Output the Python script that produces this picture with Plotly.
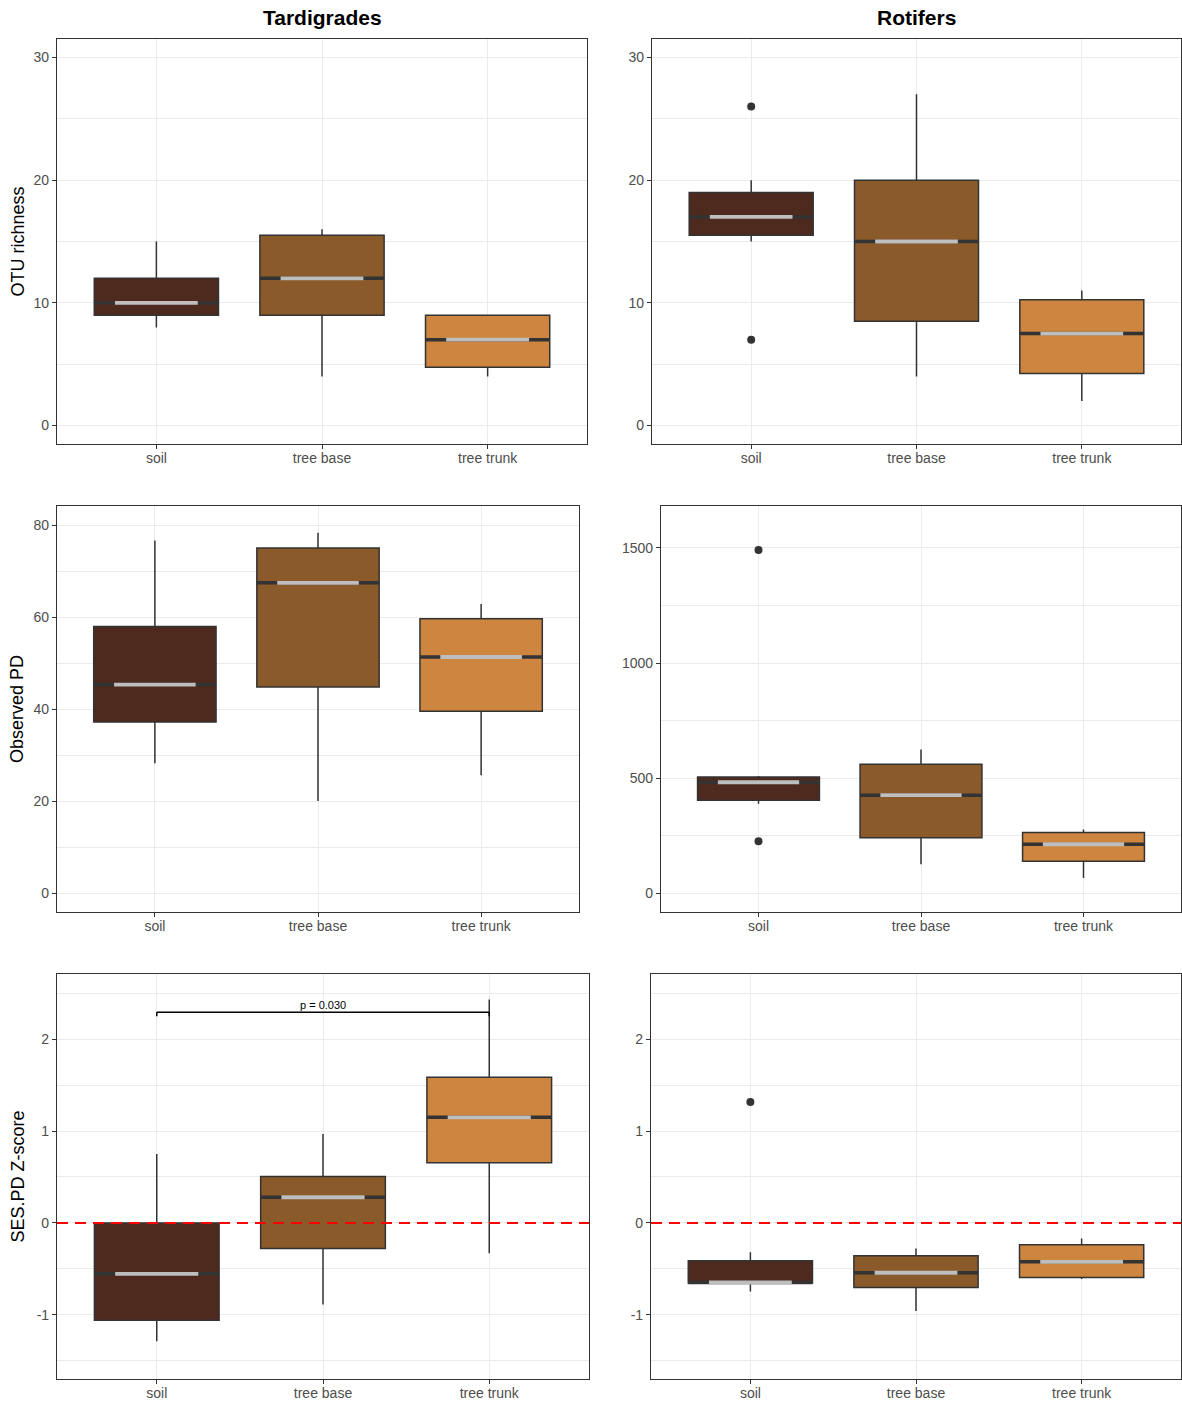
import plotly.graph_objects as go
from plotly.subplots import make_subplots

# ---------------- data ----------------
categories = ["soil", "tree base", "tree trunk"]
fill_colors = ["#4E2A1E", "#8B5A2B", "#CD853F"]

# Tardigrades - OTU richness
tard_otu_q1 = [9, 9, 4.75]
tard_otu_med = [10, 12, 7]
tard_otu_q3 = [12, 15.5, 9]
tard_otu_lo = [8, 4, 4]
tard_otu_hi = [15, 16, 9]
tard_otu_out = [[], [], []]

# Rotifers - OTU richness
rot_otu_q1 = [15.5, 8.5, 4.25]
rot_otu_med = [17, 15, 7.5]
rot_otu_q3 = [19, 20, 10.25]
rot_otu_lo = [15, 4, 2]
rot_otu_hi = [20, 27, 11]
rot_otu_out = [[26, 7], [], []]

# Tardigrades - Observed PD
tard_pd_q1 = [37.3, 44.9, 39.6]
tard_pd_med = [45.4, 67.5, 51.4]
tard_pd_q3 = [58.0, 75.1, 59.7]
tard_pd_lo = [28.3, 20.1, 25.7]
tard_pd_hi = [76.7, 78.4, 62.9]
tard_pd_out = [[], [], []]

# Rotifers - Observed PD
rot_pd_q1 = [405, 242, 140]
rot_pd_med = [483, 427, 214]
rot_pd_q3 = [506, 561, 265]
rot_pd_lo = [390, 127, 68]
rot_pd_hi = [510, 625, 278]
rot_pd_out = [[1491, 227], [], []]

# Tardigrades - SES.PD Z-score
tard_ses_q1 = [-1.06, -0.28, 0.656]
tard_ses_med = [-0.555, 0.279, 1.149]
tard_ses_q3 = [0.0, 0.504, 1.587]
tard_ses_lo = [-1.29, -0.888, -0.33]
tard_ses_hi = [0.75, 0.967, 2.431]
tard_ses_out = [[], [], []]

# Rotifers - SES.PD Z-score
rot_ses_q1 = [-0.656, -0.703, -0.594]
rot_ses_med = [-0.649, -0.543, -0.424]
rot_ses_q3 = [-0.413, -0.359, -0.239]
rot_ses_lo = [-0.746, -0.96, -0.612]
rot_ses_hi = [-0.319, -0.279, -0.170]
rot_ses_out = [[1.315], [], []]

# significance bracket (Tardigrades SES)
bracket_pair = [1, 3]
bracket_y = 2.293
bracket_label = "p = 0.030"

col_titles = ["Tardigrades", "Rotifers"]
row_titles = ["OTU richness", "Observed PD", "SES.PD Z-score"]

# axis ticks
y_ranges = [[-1.5, 31.5], [-1.5, 31.5], [-4.0, 84.2], [-80, 1682], [-1.70, 2.71], [-1.70, 2.71]]
y_major = [[0, 10, 20, 30], [0, 10, 20, 30], [0, 20, 40, 60, 80], [0, 500, 1000, 1500],
           [-1, 0, 1, 2], [-1, 0, 1, 2]]
y_minor = [[5, 15, 25], [5, 15, 25], [10, 30, 50, 70], [250, 750, 1250],
           [-1.5, -0.5, 0.5, 1.5, 2.5], [-1.5, -0.5, 0.5, 1.5, 2.5]]

panels = [
    (tard_otu_q1, tard_otu_med, tard_otu_q3, tard_otu_lo, tard_otu_hi, tard_otu_out),
    (rot_otu_q1, rot_otu_med, rot_otu_q3, rot_otu_lo, rot_otu_hi, rot_otu_out),
    (tard_pd_q1, tard_pd_med, tard_pd_q3, tard_pd_lo, tard_pd_hi, tard_pd_out),
    (rot_pd_q1, rot_pd_med, rot_pd_q3, rot_pd_lo, rot_pd_hi, rot_pd_out),
    (tard_ses_q1, tard_ses_med, tard_ses_q3, tard_ses_lo, tard_ses_hi, tard_ses_out),
    (rot_ses_q1, rot_ses_med, rot_ses_q3, rot_ses_lo, rot_ses_hi, rot_ses_out),
]

# ---------------- layout geometry (pixels) ----------------
W, H = 1182, 1405
x_px = [(57, 587), (652, 1181), (57, 579), (661, 1181), (57, 589), (651, 1181)]
y_px = [(39, 444), (39, 444), (506, 912), (506, 912), (974, 1379), (974, 1379)]

FONT = "Liberation Sans, Arial, Helvetica, sans-serif"
DARK = "#333333"
GRID = "#EBEBEB"
BOX_W = 0.75
GRAY_HALF = 0.25

fig = make_subplots(rows=3, cols=2)

for p, (q1, med, q3, lo, hi, outs) in enumerate(panels):
    r, c = p // 2 + 1, p % 2 + 1
    xs = [i + 1 for i in range(len(categories))]
    for i, xv in enumerate(xs):
        fig.add_trace(go.Box(
            x=[xv], q1=[q1[i]], median=[med[i]], q3=[q3[i]],
            lowerfence=[lo[i]], upperfence=[hi[i]],
            width=BOX_W, whiskerwidth=0, boxpoints=False,
            fillcolor=fill_colors[i], line=dict(color=DARK, width=1.5),
            showlegend=False, hoverinfo="skip"), row=r, col=c)
        # thick dark median
        fig.add_trace(go.Scatter(
            x=[xv - BOX_W / 2, xv + BOX_W / 2], y=[med[i], med[i]], mode="lines",
            line=dict(color=DARK, width=3.5), showlegend=False, hoverinfo="skip"),
            row=r, col=c)
        # light gray median segment
        fig.add_trace(go.Scatter(
            x=[xv - GRAY_HALF, xv + GRAY_HALF], y=[med[i], med[i]], mode="lines",
            line=dict(color="#BEBEBE", width=3.8), showlegend=False, hoverinfo="skip"),
            row=r, col=c)
        if outs[i]:
            fig.add_trace(go.Scatter(
                x=[xv] * len(outs[i]), y=outs[i], mode="markers",
                marker=dict(color=DARK, size=8), showlegend=False, hoverinfo="skip"),
                row=r, col=c)

# axes styling
for p in range(6):
    r, c = p // 2 + 1, p % 2 + 1
    x0, x1 = x_px[p]
    yt, yb = y_px[p]
    fig.update_xaxes(
        domain=[x0 / W, x1 / W], range=[0.4, 3.6],
        tickmode="array", tickvals=[1, 2, 3], ticktext=categories,
        showgrid=True, gridcolor=GRID, gridwidth=1.2, zeroline=False,
        showline=True, mirror=True, linecolor=DARK, linewidth=1.2,
        ticks="outside", ticklen=4, tickcolor=DARK, tickwidth=1,
        ticklabelstandoff=-3,
        tickfont=dict(family=FONT, size=14, color="#4D4D4D"),
        automargin=False, row=r, col=c)
    fig.update_yaxes(
        domain=[1 - yb / H, 1 - yt / H], range=y_ranges[p],
        tickmode="array", tickvals=y_major[p], ticktext=[str(v) for v in y_major[p]],
        showgrid=True, gridcolor=GRID, gridwidth=1.2, zeroline=False,
        minor=dict(tickmode="array", tickvals=y_minor[p], showgrid=True,
                   gridcolor=GRID, gridwidth=0.9, ticks=""),
        showline=True, mirror=True, linecolor=DARK, linewidth=1.2,
        ticks="outside", ticklen=4, tickcolor=DARK, tickwidth=1,
        tickfont=dict(family=FONT, size=14, color="#4D4D4D"),
        automargin=False, row=r, col=c)

# red dashed zero line in SES panels
for ax in ["5", "6"]:
    fig.add_shape(type="line", xref=f"x{ax} domain", yref=f"y{ax}",
                  x0=0, x1=1, y0=0, y1=0, layer="above",
                  line=dict(color="red", width=2, dash="11px,7px"))

# significance bracket
b0, b1 = bracket_pair
tick_drop = 0.044
fig.add_shape(type="line", xref="x5", yref="y5", x0=b0, x1=b1, y0=bracket_y, y1=bracket_y,
              line=dict(color="black", width=1.5), layer="above")
for bx in bracket_pair:
    fig.add_shape(type="line", xref="x5", yref="y5", x0=bx, x1=bx,
                  y0=bracket_y, y1=bracket_y - tick_drop,
                  line=dict(color="black", width=1.5), layer="above")
fig.add_annotation(x=(b0 + b1) / 2, y=bracket_y, xref="x5", yref="y5",
                   text=bracket_label, showarrow=False, yanchor="bottom", yshift=-1,
                   font=dict(family=FONT, size=11, color="black"))

# column titles
for j, t in enumerate(col_titles):
    x0, x1 = x_px[j]
    fig.add_annotation(x=(x0 + x1) / 2 / W, y=1 - 18 / H, xref="paper", yref="paper",
                       text=f"<b>{t}</b>", showarrow=False, xanchor="center", yanchor="middle",
                       font=dict(family=FONT, size=21, color="black"))

# row (y-axis) titles
for k, t in enumerate(row_titles):
    yt, yb = y_px[2 * k]
    fig.add_annotation(x=17 / W, y=1 - (yt + yb) / 2 / H, xref="paper", yref="paper",
                       text=t, textangle=-90, showarrow=False, xanchor="center",
                       yanchor="middle", font=dict(family=FONT, size=18, color="black"))

fig.update_layout(width=W, height=H, margin=dict(l=0, r=0, t=0, b=0),
                  plot_bgcolor="white", paper_bgcolor="white", showlegend=False,
                  font=dict(family=FONT))

fig.write_html("out.html", config={"displayModeBar": False},
               post_script="document.body.style.margin='0';document.body.style.padding='0';")
